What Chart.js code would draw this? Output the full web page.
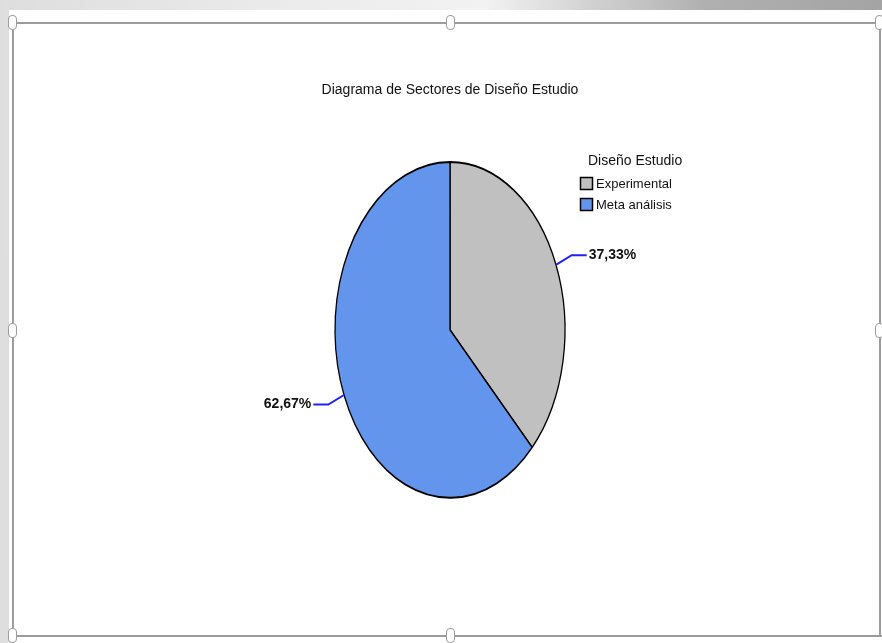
<!DOCTYPE html>
<html>
<head>
<meta charset="utf-8">
<script src="https://cdn.jsdelivr.net/npm/chart.js@4.4.1/dist/chart.umd.min.js"></script>
<style>
    body {
        margin: 0;
        width: 882px;
        height: 643px;
        overflow: hidden;
        position: relative;
        background: linear-gradient(90deg, #dedede 0%, #ececec 35%, #f2f2f2 55%, #cfcfcf 68%, #b0b0b0 80%, #a4a4a4 100%);
    }
    #sheet { position: absolute; left: 9px; top: 10px; width: 873px; height: 633px; background: #fff; }
    .ln { position: absolute; background: #9c9c9c; }
    .h { position: absolute; width: 7px; height: 13px; margin: -8px 0 0 -5px; border: 1.5px solid #9c9c9c; border-radius: 4px; background: #fff; }
    #pie { position: absolute; left: 0; top: 0; }
</style>
</head>
<body>
<div id="sheet"></div>
<div class="ln" style="left:12px;top:22px;width:870px;height:2px"></div>
<div class="ln" style="left:12px;top:22px;width:2px;height:615px"></div>
<div class="ln" style="left:879px;top:22px;width:2px;height:615px"></div>
<div class="ln" style="left:12px;top:635px;width:870px;height:2px"></div>
<div class="h" style="left:13px;top:23px"></div>
<div class="h" style="left:451px;top:23px"></div>
<div class="h" style="left:880px;top:23px"></div>
<div class="h" style="left:13px;top:331px"></div>
<div class="h" style="left:880px;top:331px"></div>
<div class="h" style="left:13px;top:636px"></div>
<div class="h" style="left:451px;top:636px"></div>
<canvas id="pie" width="882" height="643"></canvas>
<script>
const categories = ['Experimental', 'Meta análisis'];
const percentages = [37.33, 62.67];
const chartTitle = 'Diagrama de Sectores de Diseño Estudio';
const legendTitle = 'Diseño Estudio';

// the original pie is an ellipse, taller than wide
const Y_STRETCH = 1.46;
const FONT = 'Arial, "Liberation Sans", sans-serif';

function fmt(v) {
    return v.toFixed(2).replace('.', ',') + '%';
}

const ovalPie = {
    id: 'ovalPie',
    beforeDatasetsDraw(chart) {
        const arc = chart.getDatasetMeta(0).data[0];
        const ctx = chart.ctx;
        ctx.save();
        ctx.translate(arc.x, arc.y);
        ctx.scale(1, Y_STRETCH);
        ctx.translate(-arc.x, -arc.y);
    },
    afterDatasetsDraw(chart) {
        chart.ctx.restore();
    }
};

const sliceLabels = {
    id: 'sliceLabels',
    afterDraw(chart) {
        const ctx = chart.ctx;
        const ds = chart.data.datasets[0];
        ctx.save();
        chart.getDatasetMeta(0).data.forEach((arc, i) => {
            const mid = (arc.startAngle + arc.endAngle) / 2;
            const r = arc.outerRadius;
            const px = d => arc.x + Math.cos(mid) * d;
            const py = d => arc.y + Math.sin(mid) * d * Y_STRETCH;
            const right = Math.cos(mid) >= 0;
            const x1 = px(r + 17), y1 = py(r + 17);
            const x2 = x1 + (right ? 15 : -15);
            ctx.strokeStyle = '#1f1fff';
            ctx.lineWidth = 2;
            ctx.beginPath();
            ctx.moveTo(px(r), py(r));
            ctx.lineTo(x1, y1);
            ctx.lineTo(x2, y1);
            ctx.stroke();
            ctx.fillStyle = '#111';
            ctx.font = 'bold 14px ' + FONT;
            ctx.textAlign = right ? 'left' : 'right';
            ctx.textBaseline = 'middle';
            ctx.fillText(fmt(ds.data[i]), x2 + (right ? 2 : -2), y1);
        });

        // legend box at the upper right of the pie
        ctx.textAlign = 'left';
        ctx.textBaseline = 'middle';
        ctx.fillStyle = '#111';
        ctx.font = '14px ' + FONT;
        ctx.fillText(legendTitle, 588, 161);
        ctx.font = '13px ' + FONT;
        chart.data.labels.forEach((lab, i) => {
            const y = 184 + i * 21;
            ctx.fillStyle = ds.backgroundColor[i];
            ctx.fillRect(580.5, y - 6.5, 12, 12);
            ctx.strokeStyle = '#000';
            ctx.lineWidth = 1.5;
            ctx.strokeRect(580.5, y - 6.5, 12, 12);
            ctx.fillStyle = '#111';
            ctx.fillText(lab, 596, y);
        });
        ctx.restore();
    }
};

const chart = new Chart(document.getElementById('pie'), {
    type: 'pie',
    data: {
        labels: categories,
        datasets: [{
            data: percentages,
            backgroundColor: ['#c0c0c0', '#6495ed'],
            borderColor: '#000',
            borderWidth: 1.3,
            hoverOffset: 0
        }]
    },
    options: {
        responsive: false,
        animation: false,
        radius: 115,
        layout: { padding: { left: 150, right: 132, top: 82, bottom: 198 } },
        plugins: {
            legend: { display: false },
            tooltip: { enabled: false },
            title: {
                display: true,
                text: chartTitle,
                color: '#111',
                font: { family: FONT, size: 14, weight: 'normal', lineHeight: 1.2 },
                padding: { top: 0, bottom: 116 }
            }
        }
    },
    plugins: [ovalPie, sliceLabels]
});
</script>
</body>
</html>
